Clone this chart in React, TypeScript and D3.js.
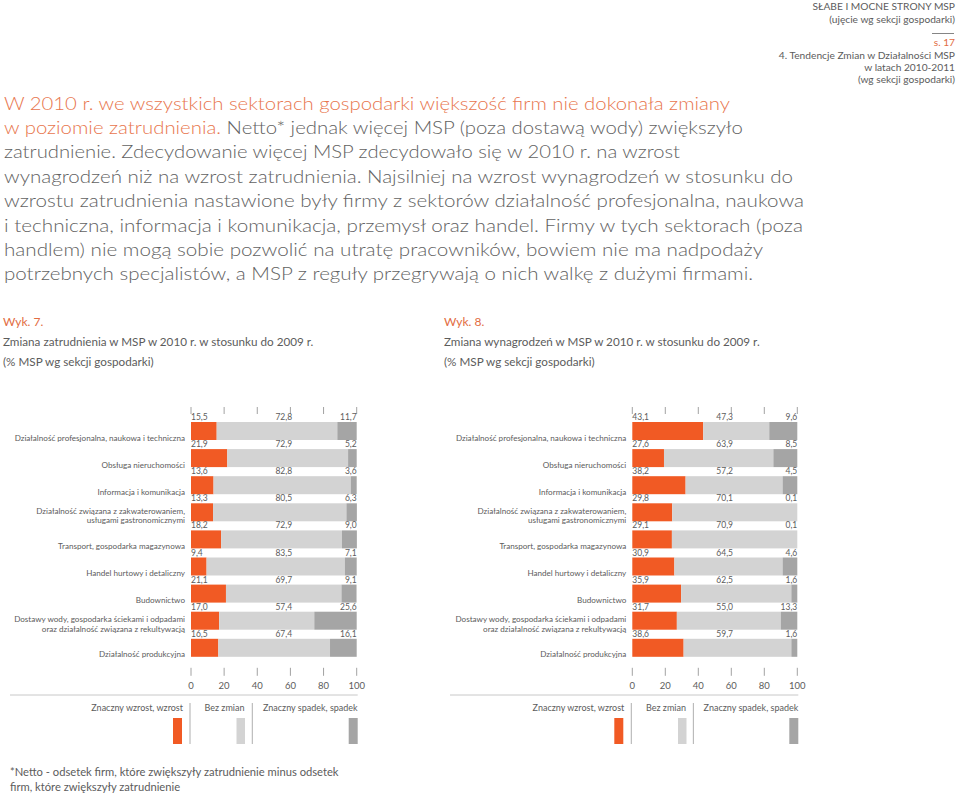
import React from 'react';
import * as d3 from 'd3';

const categories: string[][] = [
  ['Działalność profesjonalna, naukowa i techniczna'],
  ['Obsługa nieruchomości'],
  ['Informacja i komunikacja'],
  ['Działalność związana z zakwaterowaniem,', 'usługami gastronomicznymi'],
  ['Transport, gospodarka magazynowa'],
  ['Handel hurtowy i detaliczny'],
  ['Budownictwo'],
  ['Dostawy wody, gospodarka ściekami i odpadami', 'oraz działalność związana z rekultywacją'],
  ['Działalność produkcyjna'],
];

// Wyk. 7 – employment change (labels)
const empIncrease = [15.5, 21.9, 13.6, 13.3, 18.2, 9.4, 21.1, 17.0, 16.5];
const empNoChange = [72.8, 72.9, 82.8, 80.5, 72.9, 83.5, 69.7, 57.4, 67.4];
const empDecrease = [11.7, 5.2, 3.6, 6.3, 9.0, 7.1, 9.1, 25.6, 16.1];

// Wyk. 8 – wage change (labels)
const wageIncrease = [43.1, 27.6, 38.2, 29.8, 29.1, 30.9, 35.9, 31.7, 38.6];
const wageNoChange = [47.3, 63.9, 57.2, 70.1, 70.9, 64.5, 62.5, 55.0, 59.7];
const wageDecrease = [9.6, 8.5, 4.5, 0.1, 0.1, 4.6, 1.6, 13.3, 1.6];

// Wyk. 8 – bar lengths as drawn in the source (they differ from its labels)
const wageBarIncrease = [43.0, 19.2, 32.3, 24.2, 24.0, 25.5, 29.6, 27.0, 31.1];
const wageBarNoChange = [40.0, 66.3, 58.8, 75.8, 76.0, 65.6, 66.8, 63.0, 65.3];
const wageBarDecrease = [17.0, 14.5, 8.9, 0.0, 0.0, 8.9, 3.6, 10.0, 3.6];

const axisTicks = [0, 20, 40, 60, 80, 100];
const legendLabels = ['Znaczny wzrost, wzrost', 'Bez zmian', 'Znaczny spadek, spadek'];

const paragraphLines: { orange: string; gray: string }[] = [
  { orange: 'W 2010 r. we wszystkich sektorach gospodarki większość firm nie dokonała zmiany', gray: '' },
  { orange: 'w poziomie zatrudnienia.', gray: ' Netto* jednak więcej MSP (poza dostawą wody) zwiększyło' },
  { orange: '', gray: 'zatrudnienie. Zdecydowanie więcej MSP zdecydowało się w 2010 r. na wzrost' },
  { orange: '', gray: 'wynagrodzeń niż na wzrost zatrudnienia. Najsilniej na wzrost wynagrodzeń w stosunku do' },
  { orange: '', gray: 'wzrostu zatrudnienia nastawione były firmy z sektorów działalność profesjonalna, naukowa' },
  { orange: '', gray: 'i techniczna, informacja i komunikacja, przemysł oraz handel. Firmy w tych sektorach (poza' },
  { orange: '', gray: 'handlem) nie mogą sobie pozwolić na utratę pracowników, bowiem nie ma nadpodaży' },
  { orange: '', gray: 'potrzebnych specjalistów, a MSP z reguły przegrywają o nich walkę z dużymi firmami.' },
];
const paragraphWidths = [726, 739, 676, 789, 800, 799, 759, 749];

const FONT = 'Lato, "Open Sans", sans-serif';
const ORANGE = '#f15a24';
const LIGHT = '#d3d3d3';
const DARK = '#a5a5a5';
const TEXT = '#5c5c5c';
const HEAD_ORANGE = '#e26c42';

type ChartProps = {
  x0: number;
  x1: number;
  labInc: number[];
  labMid: number[];
  labDec: number[];
  barInc: number[];
  barMid: number[];
  barDec: number[];
  title: string;
  number: string;
  titleX: number;
  lineX0: number;
  bezCenter: number;
};

function Chart(p: ChartProps) {
  const x = d3.scaleLinear().domain([0, 100]).range([p.x0, p.x1]);
  const step = 27.1;
  const bh = 18;
  const n = categories.length;
  const y = d3
    .scaleBand<number>()
    .domain(d3.range(n))
    .range([422, 422 + step * (n - 1) + bh])
    .paddingInner((step - bh) / step)
    .paddingOuter(0);
  const rows = d3.range(n).map((i) => ({ inc: p.barInc[i], mid: p.barMid[i], dec: p.barDec[i] }));
  const stack = d3.stack<any>().keys(['inc', 'mid', 'dec'])(rows);
  const colors = [ORANGE, LIGHT, DARK];
  const bottom = (y(n - 1) as number) + y.bandwidth();
  const fmt = (v: number) => v.toFixed(1).replace('.', ',');

  return (
    <g>
      <text x={p.titleX} y={325.5} fontSize={12} fill={HEAD_ORANGE} fontFamily={FONT}>{p.number}</text>
      <text x={p.titleX} y={345.5} fontSize={11.7} fill={TEXT} fontFamily={FONT}>{p.title}</text>
      <text x={p.titleX} y={365.5} fontSize={11.7} fill={TEXT} fontFamily={FONT}>(% MSP wg sekcji gospodarki)</text>

      {axisTicks.map((t) => (
        <g key={'t' + t}>
          <line x1={x(t)} x2={x(t)} y1={407} y2={414} stroke="#8a8a8a" strokeWidth={0.8} />
          <line x1={x(t)} x2={x(t)} y1={bottom + 11} y2={bottom + 19} stroke="#8a8a8a" strokeWidth={0.8} />
          <text x={x(t)} y={688.5} fontSize={9.5} textAnchor="middle" fill={TEXT} fontFamily={FONT}>{t}</text>
        </g>
      ))}

      {stack.map((s, si) =>
        s.map((d, i) => (
          <rect
            key={si + '-' + i}
            x={x(d[0])}
            y={y(i) as number}
            width={Math.max(0, x(d[1]) - x(d[0]))}
            height={y.bandwidth()}
            fill={colors[si]}
          />
        ))
      )}

      {d3.range(n).map((i) => {
        const top = y(i) as number;
        const ly = top - 2;
        return (
          <g key={'l' + i} fontFamily={FONT} fontSize={8.5} fill={TEXT}>
            <text x={x(0)} y={ly}>{fmt(p.labInc[i])}</text>
            <text x={x(56)} y={ly} textAnchor="middle">{fmt(p.labMid[i])}</text>
            <text x={x(100)} y={ly} textAnchor="end">{fmt(p.labDec[i])}</text>
          </g>
        );
      })}

      {categories.map((lines, i) => {
        const b = (y(i) as number) + y.bandwidth();
        return (
          <g key={'c' + i} fontFamily={FONT} fontSize={8.1} fill={TEXT} textAnchor="end">
            {lines.length === 1 ? (
              <text x={p.x0 - 6} y={b + 0.5}>{lines[0]}</text>
            ) : (
              <>
                <text x={p.x0 - 6} y={b - 7.5}>{lines[0]}</text>
                <text x={p.x0 - 6} y={b + 2}>{lines[1]}</text>
              </>
            )}
          </g>
        );
      })}

      <line x1={p.lineX0} x2={x(100) + 1} y1={695} y2={695} stroke="#c8c8c8" strokeWidth={1} />

      <g fontFamily={FONT} fontSize={9} fill={TEXT}>
        <text x={p.x0 - 8} y={711} textAnchor="end">{legendLabels[0]}</text>
        <text x={p.bezCenter} y={711} textAnchor="middle">{legendLabels[1]}</text>
        <text x={x(100) + 1} y={711} textAnchor="end">{legendLabels[2]}</text>
      </g>
      <line x1={p.x0 - 1} x2={p.x0 - 1} y1={703} y2={744} stroke="#9a9a9a" strokeWidth={0.8} />
      <line x1={x(37)} x2={x(37)} y1={703} y2={744} stroke="#9a9a9a" strokeWidth={0.8} />
      <rect x={p.x0 - 18} y={718} width={9} height={26} fill={ORANGE} />
      <rect x={p.bezCenter + 12} y={718} width={8.5} height={26} fill={LIGHT} />
      <rect x={x(100) - 8} y={718} width={9} height={26} fill={DARK} />
    </g>
  );
}

export default function App() {
  const pBase = 109.5;
  const pStep = 24.4;
  return (
    <svg
      width={960}
      height={807}
      style={{ position: 'absolute', left: 0, top: 0, background: '#fff' }}
      fontFamily={FONT}
    >
      <rect width={960} height={807} fill="#fff" />
      <g fontSize={10.2} fill={TEXT} textAnchor="end" fontFamily={FONT}>
        <text x={955} y={9.5}>SŁABE I MOCNE STRONY MSP</text>
        <text x={955} y={23}>(ujęcie wg sekcji gospodarki)</text>
        <line x1={932} x2={954} y1={33.5} y2={33.5} stroke="#666" strokeWidth={0.8} />
        <text x={955} y={45.5} fill={HEAD_ORANGE}>s. 17</text>
        <text x={955} y={58.5}>4. Tendencje Zmian w Działalności MSP</text>
        <text x={955} y={70.5}>w latach 2010-2011</text>
        <text x={955} y={82.5}>(wg sekcji gospodarki)</text>
      </g>

      {paragraphLines.map((l, i) => (
        <text
          key={'p' + i}
          x={4}
          y={pBase + i * pStep}
          fontSize={18.5}
          fontWeight={300}
          fontFamily={FONT}
          textLength={paragraphWidths[i]}
          lengthAdjust="spacingAndGlyphs"
        >
          {l.orange && <tspan fill="#e8764e">{l.orange}</tspan>}
          {l.gray && <tspan fill="#626262">{l.gray}</tspan>}
        </text>
      ))}

      <Chart
        x0={191}
        x1={356.7}
        labInc={empIncrease}
        labMid={empNoChange}
        labDec={empDecrease}
        barInc={empIncrease}
        barMid={empNoChange}
        barDec={empDecrease}
        number="Wyk. 7."
        title="Zmiana zatrudnienia w MSP w 2010 r. w stosunku do 2009 r."
        titleX={3}
        lineX0={10}
        bezCenter={224.5}
      />
      <Chart
        x0={632.3}
        x1={797.3}
        labInc={wageIncrease}
        labMid={wageNoChange}
        labDec={wageDecrease}
        barInc={wageBarIncrease}
        barMid={wageBarNoChange}
        barDec={wageBarDecrease}
        number="Wyk. 8."
        title="Zmiana wynagrodzeń w MSP w 2010 r. w stosunku do 2009 r."
        titleX={444}
        lineX0={450}
        bezCenter={666}
      />

      <g fontSize={11.2} fill={TEXT} fontFamily={FONT}>
        <text x={10} y={775.5}>*Netto - odsetek firm, które zwiększyły zatrudnienie minus odsetek</text>
        <text x={10} y={791}>firm, które zwiększyły zatrudnienie</text>
      </g>
    </svg>
  );
}
